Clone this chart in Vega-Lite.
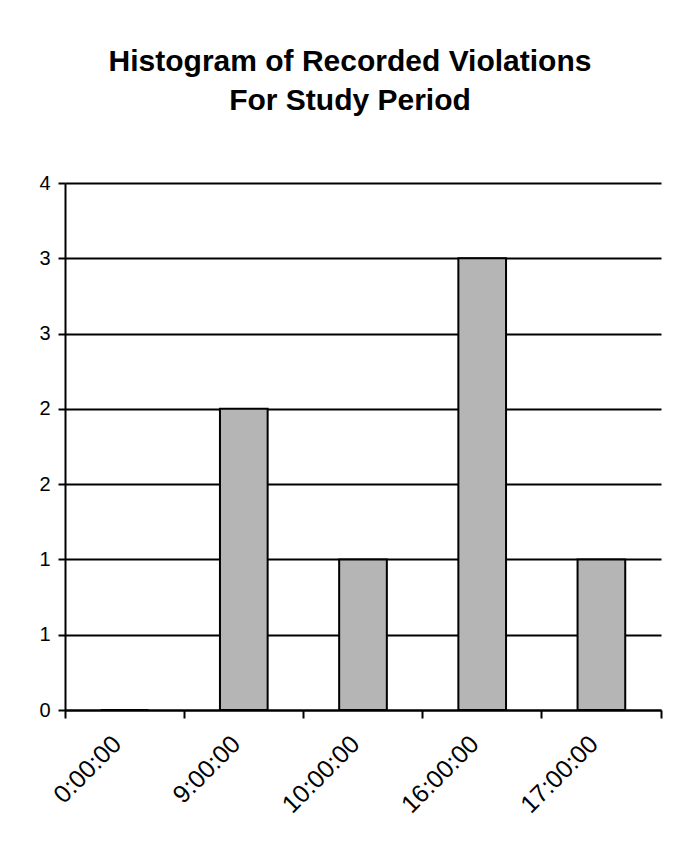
{
  "$schema": "https://vega.github.io/schema/vega-lite/v6.json",
  "autosize": {"type": "none"},
  "width": 596,
  "height": 527,
  "padding": {"left": 65, "top": 183, "right": 23, "bottom": 143},
  "background": "white",
  "title": {
    "text": ["Histogram of Recorded Violations", "For Study Period"],
    "font": "Liberation Sans",
    "fontSize": 30,
    "fontWeight": "bold",
    "lineHeight": 39,
    "color": "black",
    "anchor": "middle",
    "dx": -13,
    "offset": 57
  },
  "data": {
    "values": [
      {"time": "0:00:00", "count": 0},
      {"time": "9:00:00", "count": 2},
      {"time": "10:00:00", "count": 1},
      {"time": "16:00:00", "count": 3},
      {"time": "17:00:00", "count": 1}
    ]
  },
  "config": {
    "font": "Liberation Sans",
    "view": {"stroke": null},
    "axis": {"labelColor": "black", "domainColor": "black", "tickColor": "black", "gridColor": "black", "title": null}
  },
  "resolve": {"axis": {"x": "independent"}},
  "layer": [
    {
      "mark": {"type": "bar", "width": {"band": 0.4}, "fill": "#b5b5b5", "stroke": "black", "strokeWidth": 2},
      "encoding": {
        "x": {
          "field": "time", "type": "nominal", "sort": null,
          "scale": {"paddingInner": 0, "paddingOuter": 0},
          "axis": {"orient": "bottom", "labels": false, "grid": false, "bandPosition": 1, "tickExtra": true,
                   "ticks": true, "tickSize": 8, "tickWidth": 2, "domain": true, "domainWidth": 2, "title": null}
        },
        "y": {
          "field": "count", "type": "quantitative",
          "scale": {"domain": [0, 3.5], "nice": false},
          "axis": {"values": [0, 0.5, 1, 1.5, 2, 2.5, 3, 3.5], "labelExpr": "round(datum.value)",
                   "grid": true, "gridWidth": 2, "gridOpacity": 1, "domain": true, "domainWidth": 2,
                   "tickSize": 7, "tickWidth": 2, "labelPadding": 8, "labelFontSize": 20, "title": null}
        }
      }
    },
    {
      "mark": {"type": "bar", "width": {"band": 0.4}, "fillOpacity": 0, "strokeOpacity": 0},
      "encoding": {
        "x": {
          "field": "time", "type": "nominal", "sort": null,
          "axis": {"orient": "bottom", "labels": true, "labelAngle": -45, "labelFontSize": 25,
                   "labelPadding": 21, "labelOffset": -16, "ticks": false, "domain": false, "grid": false, "title": null}
        },
        "y": {"field": "count", "type": "quantitative"}
      }
    }
  ]
}
